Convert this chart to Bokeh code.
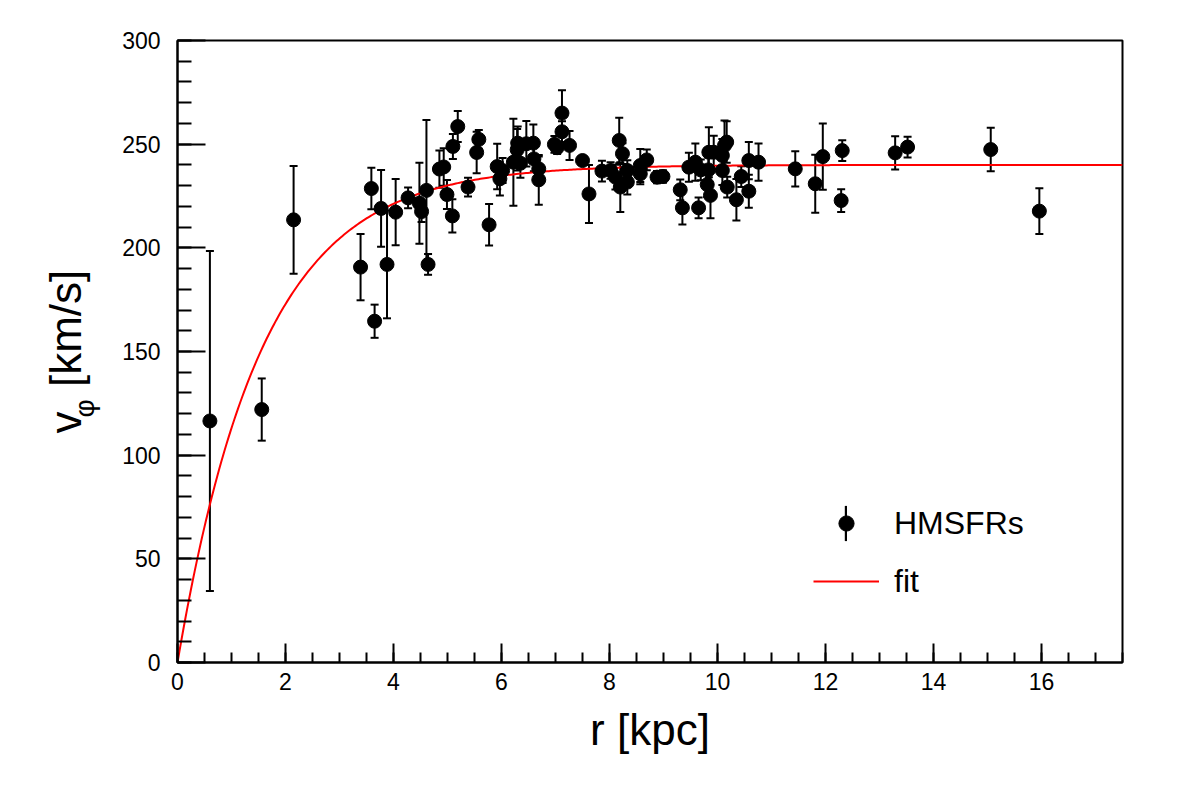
import numpy as np
from bokeh.plotting import figure
from bokeh.layouts import row
from bokeh.models import (ColumnDataSource, Whisker, TeeHead, Range1d, SingleIntervalTicker,
                          Legend, LegendItem, Label)
from bokeh.embed import file_html
from bokeh.resources import INLINE

# ---- data ----
r_kpc = [0.60, 1.56, 2.15, 3.39, 3.59, 3.65, 3.77, 3.88, 4.04, 4.27,
         4.48, 4.52, 4.61, 4.64, 4.85, 4.93, 4.99, 5.09, 5.10, 5.19,
         5.38, 5.54, 5.58, 5.77, 5.92, 5.97, 6.02, 6.22, 6.29, 6.30,
         6.35, 6.46, 6.59, 6.60, 6.69, 6.69, 6.98, 7.03, 7.12, 7.12,
         7.26, 7.50, 7.62, 7.86, 8.02, 8.18, 8.24, 8.11, 8.20, 8.33,
         8.33, 8.57, 8.69, 8.57, 8.88, 8.99, 9.31, 9.35, 9.47, 9.59,
         9.65, 9.69, 9.81, 9.83, 9.84, 9.87, 9.93, 10.09, 10.09, 10.13,
         10.17, 10.18, 10.35, 10.44, 10.58, 10.58, 10.76, 11.44, 11.81, 11.95,
         12.31, 12.29, 13.29, 13.52, 15.06, 15.96]
v_phi = [116.5, 122.0, 213.5, 190.7, 228.6, 164.6, 219.0, 192.0, 217.2, 224.1,
         221.5, 217.5, 227.7, 192.0, 238.0, 239.0, 225.7, 215.4, 248.9, 258.5,
         229.3, 246.0, 252.3, 211.1, 239.2, 233.3, 237.3, 241.3, 247.3, 250.5,
         240.8, 250.2, 250.5, 242.9, 238.1, 232.8, 249.9, 248.3, 265.0, 256.0,
         249.4, 242.1, 226.0, 237.0, 237.3, 251.8, 245.4, 234.1, 229.3, 237.3,
         231.7, 239.7, 242.4, 235.7, 234.1, 234.4, 228.0, 219.3, 238.9, 241.3,
         219.3, 237.6, 230.5, 237.6, 246.1, 225.3, 246.1, 237.3, 244.5, 249.4,
         251.0, 229.3, 223.2, 234.4, 242.1, 227.3, 241.3, 238.1, 230.9, 244.0,
         246.9, 222.8, 245.8, 248.6, 247.4, 217.7]
v_err = [82.0, 15.0, 26.0, 16.0, 10.0, 8.0, 18.5, 26.0, 16.0, 5.0,
         19.5, 5.0, 34.0, 5.0, 9.0, 9.0, 7.0, 8.0, 6.0, 7.5,
         4.5, 10.0, 4.5, 10.0, 11.0, 8.0, 6.0, 21.0, 10.0, 8.0,
         7.0, 11.0, 9.0, 6.0, 6.0, 12.0, 4.0, 3.0, 11.0, 5.0,
         7.0, 2.0, 14.0, 5.0, 4.0, 11.0, 5.0, 6.0, 12.0, 5.0,
         6.0, 8.0, 5.0, 5.0, 3.0, 3.0, 5.0, 8.0, 7.0, 9.0,
         5.0, 5.0, 6.0, 6.0, 12.0, 11.0, 8.0, 7.0, 8.0, 12.0,
         10.0, 5.0, 10.0, 5.0, 9.0, 8.0, 9.0, 8.5, 14.0, 16.0,
         5.0, 5.5, 8.0, 5.0, 10.5, 11.0]

# fit parameters: v(r) = V0 * (1 - exp(-r / R0))
V0_fit = 240.0
R0_fit = 1.57

x_ticks_interval = 2
y_ticks_interval = 50

FONT = "Liberation Sans"
NB = "\u00a0"

W, H = 1182, 803
B_LEFT, B_RIGHT, B_TOP, B_BOTTOM = 177, 60, 40, 141

src = ColumnDataSource(dict(
    r=r_kpc, v=v_phi,
    lo=[a - b for a, b in zip(v_phi, v_err)],
    hi=[a + b for a, b in zip(v_phi, v_err)],
))

r_fit = np.linspace(0.0, 17.5, 500)
v_fit = V0_fit * (1.0 - np.exp(-r_fit / R0_fit))

# ---- narrow strip on the left carrying the y-axis title ----
# (its frame is aligned with the main frame by the row layout; ranges in pixels)
LW = 110
lab = figure(width=LW, height=H, output_backend="svg", toolbar_location=None,
             x_range=Range1d(0, LW), y_range=Range1d(B_BOTTOM, H - B_TOP),
             x_axis_type=None, y_axis_type=None,
             min_border_left=0, min_border_right=0, min_border_top=B_TOP, min_border_bottom=B_BOTTOM)
lab.xgrid.visible = False
lab.ygrid.visible = False
lab.outline_line_color = None
lab.background_fill_color = "white"
lab.border_fill_color = "white"
lab.add_layout(Label(x=65, y=H - 433, text="v" + NB + NB + "[km/s]",
                     angle=np.pi / 2, text_font=FONT, text_font_size="44px",
                     text_baseline="alphabetic", text_align="left", text_color="black"))
lab.add_layout(Label(x=84, y=H - 417, text="φ",
                     angle=np.pi / 2, text_font=FONT, text_font_size="28px",
                     text_baseline="alphabetic", text_align="left", text_color="black"))

# ---- main plot ----
p = figure(width=W - LW, height=H, output_backend="svg", toolbar_location=None,
           x_range=Range1d(0, 17.5), y_range=Range1d(0, 300),
           min_border_left=B_LEFT - LW, min_border_right=B_RIGHT,
           min_border_top=B_TOP, min_border_bottom=B_BOTTOM)
p.xgrid.visible = False
p.ygrid.visible = False
p.outline_line_color = "black"
p.outline_line_width = 2
p.background_fill_color = "white"
p.border_fill_color = "white"

p.xaxis.ticker = SingleIntervalTicker(interval=x_ticks_interval, num_minor_ticks=4)
p.yaxis.ticker = SingleIntervalTicker(interval=y_ticks_interval, num_minor_ticks=5)
for ax in (p.xaxis[0], p.yaxis[0]):
    ax.axis_line_width = 2
    ax.axis_line_color = "black"
    ax.major_tick_line_width = 2
    ax.minor_tick_line_width = 2
    ax.major_tick_out = 0
    ax.minor_tick_out = 0
    ax.major_label_text_font = FONT
    ax.major_label_text_font_size = "23px"
    ax.major_label_text_color = "black"
p.xaxis.major_tick_in = 19
p.xaxis.minor_tick_in = 10
p.yaxis.major_tick_in = 28
p.yaxis.minor_tick_in = 14
p.xaxis.major_label_standoff = 10
p.yaxis.major_label_standoff = 17

p.xaxis.axis_label = "r [kpc]"
p.xaxis.axis_label_text_font = FONT
p.xaxis.axis_label_text_font_size = "44px"
p.xaxis.axis_label_text_font_style = "normal"
p.xaxis.axis_label_text_color = "black"
p.xaxis.axis_label_standoff = 12

whisk = Whisker(base="r", upper="hi", lower="lo", source=src, dimension="height",
                line_width=2, line_color="black",
                upper_head=TeeHead(size=8, line_width=2, line_color="black"),
                lower_head=TeeHead(size=8, line_width=2, line_color="black"))
p.add_layout(whisk)
fit_r = p.line(r_fit, v_fit, line_color="red", line_width=2)
pts = p.scatter("r", "v", source=src, size=14, fill_color="black", line_color="black")

# hidden proxy used only to draw the vertical error bar in the legend
proxy = p.vbar(x="r", top="hi", bottom="lo", width=0.001, source=src,
               fill_color="black", line_color=None, visible=False)

leg = Legend(items=[LegendItem(label="HMSFRs", renderers=[pts]),
                    LegendItem(label="fit", renderers=[fit_r])],
             location=(636, 62), orientation="vertical",
             glyph_width=66, glyph_height=38, label_height=38, spacing=20,
             padding=0, margin=0, label_standoff=15,
             label_text_font=FONT, label_text_font_size="32px", label_text_color="black",
             border_line_color=None, background_fill_alpha=0)
leg2 = Legend(items=[LegendItem(label=" ", renderers=[proxy])],
              location=(667, 117), orientation="vertical",
              glyph_width=3, glyph_height=44, label_height=0, spacing=0,
              padding=0, margin=0, label_standoff=0,
              label_text_font_size="1px", label_text_alpha=0,
              border_line_color=None, background_fill_alpha=0)
p.add_layout(leg)
p.add_layout(leg2)

layout = row(lab, p, spacing=0)
open("out.html", "w").write(file_html(layout, INLINE))
